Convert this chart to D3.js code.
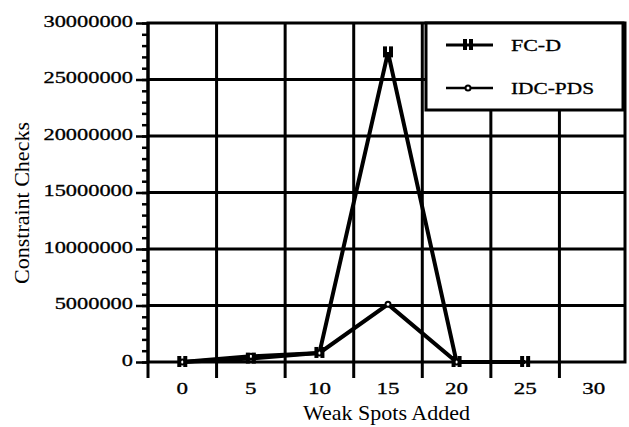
<!DOCTYPE html>
<html>
<head>
<meta charset="utf-8">
<script src="https://cdn.jsdelivr.net/npm/d3@7"></script>
<style>
  body { margin: 0; background: #fff; }
  text { font-family: "Liberation Serif", "Times New Roman", serif; fill: #000; }
</style>
</head>
<body>
<div id="chart"></div>
<script>
// data
var categories = [0, 5, 10, 15, 20, 25, 30];
var fcdX = [0, 5, 10, 15, 20, 25];
var fcdValues = [0, 300000, 800000, 27400000, 0, 0];
var idcX = [0, 5, 10, 15, 20];
var idcValues = [0, 500000, 800000, 5100000, 0];
var yTicks = [0, 5000000, 10000000, 15000000, 20000000, 25000000, 30000000];

// svg size
var svgWidth = 629;
var svgHeight = 427;

var margin = { top: 23, right: 4, bottom: 65, left: 148 };
var chartWidth = svgWidth - margin.left - margin.right;
var chartHeight = svgHeight - margin.top - margin.bottom;

var svg = d3.select("#chart").append("svg")
    .attr("width", svgWidth)
    .attr("height", svgHeight);

svg.append("rect")
    .attr("width", svgWidth)
    .attr("height", svgHeight)
    .attr("fill", "#fff");

var chartGroup = svg.append("g")
    .attr("transform", `translate(${margin.left}, ${margin.top})`);

// x is a band per category, points sit in the middle of each band
var xScale = d3.scaleBand()
    .domain(categories)
    .range([0, chartWidth + 3]);
var half = xScale.bandwidth() / 2;

var yScale = d3.scaleLinear()
    .domain([0, 30000000])
    .range([chartHeight, 0]);

// horizontal grid
chartGroup.append("g")
    .selectAll("line")
    .data(yTicks.slice(1, -1))
    .enter()
    .append("line")
    .attr("x1", 0)
    .attr("x2", chartWidth)
    .attr("y1", d => yScale(d))
    .attr("y2", d => yScale(d))
    .attr("stroke", "#000")
    .attr("stroke-width", 3);

// vertical grid at the band edges, running a little below the axis as ticks
chartGroup.append("g")
    .selectAll("line")
    .data(categories)
    .enter()
    .append("line")
    .attr("x1", d => xScale(d))
    .attr("x2", d => xScale(d))
    .attr("y1", 0)
    .attr("y2", chartHeight + 16)
    .attr("stroke", "#000")
    .attr("stroke-width", 3);

// frame
chartGroup.append("rect")
    .attr("width", chartWidth)
    .attr("height", chartHeight)
    .attr("fill", "none")
    .attr("stroke", "#000")
    .attr("stroke-width", 3);

// y axis: minor ticks every million, major every five
var minorTicks = d3.range(0, 30000001, 1000000);
chartGroup.append("g")
    .call(d3.axisLeft(yScale).tickValues(minorTicks).tickSize(6).tickFormat(""))
    .call(g => g.select(".domain").remove())
    .selectAll("line").attr("stroke-width", 2.5);

var yAxis = chartGroup.append("g")
    .call(d3.axisLeft(yScale).tickValues(yTicks).tickSize(12).tickFormat(d3.format("d")));
yAxis.select(".domain").remove();
yAxis.selectAll("line").attr("stroke-width", 2.5);
yAxis.selectAll("text")
    .attr("font-size", 16)
    .attr("font-family", "Liberation Serif")
    .attr("x", -15 / 1.4)
    .attr("dy", "0.2em")
    .attr("stroke", "#000")
    .attr("stroke-width", 0.3)
    .attr("transform", "scale(1.4,1)");

// x axis labels in the middle of each band
var xAxis = chartGroup.append("g")
    .attr("transform", `translate(0, ${chartHeight})`)
    .call(d3.axisBottom(xScale).tickSize(0));
xAxis.select(".domain").remove();
xAxis.selectAll("text")
    .attr("font-size", 17)
    .attr("font-family", "Liberation Serif")
    .attr("y", 32)
    .attr("dy", "0")
    .attr("x", 0)
    .attr("stroke", "#000")
    .attr("stroke-width", 0.3)
    .attr("textLength", d => String(d).length * 11.5)
    .attr("lengthAdjust", "spacingAndGlyphs");

// lines
var line = d3.line()
    .x(d => xScale(d[0]) + half)
    .y(d => yScale(d[1]));

var fcdData = fcdX.map((d, i) => [d, fcdValues[i]]);
var idcData = idcX.map((d, i) => [d, idcValues[i]]);

chartGroup.append("path")
    .datum(idcData)
    .attr("d", line)
    .attr("fill", "none")
    .attr("stroke", "#000")
    .attr("stroke-width", 4);

chartGroup.append("path")
    .datum(fcdData)
    .attr("d", line)
    .attr("fill", "none")
    .attr("stroke", "#000")
    .attr("stroke-width", 4);

// FC-D marker: two little upright bars
function barMarker(g) {
    g.append("rect").attr("x", -5).attr("y", -6).attr("width", 4).attr("height", 11).attr("fill", "#000");
    g.append("rect").attr("x", 1).attr("y", -6).attr("width", 4).attr("height", 11).attr("fill", "#000");
}
// IDC-PDS marker: small open ring
function ringMarker(g) {
    g.append("circle").attr("r", 2.5).attr("fill", "#fff").attr("stroke", "#000").attr("stroke-width", 2);
}

chartGroup.selectAll(".idc")
    .data(idcData)
    .enter()
    .append("g")
    .attr("class", "idc")
    .attr("transform", d => `translate(${xScale(d[0]) + half}, ${yScale(d[1])})`)
    .each(function() { ringMarker(d3.select(this)); });

chartGroup.selectAll(".fcd")
    .data(fcdData)
    .enter()
    .append("g")
    .attr("class", "fcd")
    .attr("transform", d => `translate(${xScale(d[0]) + half}, ${yScale(d[1])})`)
    .each(function() { barMarker(d3.select(this)); });

// legend box in the top right corner
var legend = chartGroup.append("g")
    .attr("transform", `translate(${chartWidth - 199}, 0)`);
legend.append("rect")
    .attr("width", 197)
    .attr("height", 87)
    .attr("fill", "#fff")
    .attr("stroke", "#000")
    .attr("stroke-width", 3);

var legendItems = [["FC-D", 22, barMarker, 3], ["IDC-PDS", 65, ringMarker, 2.5]];
legendItems.forEach(function(item) {
    var row = legend.append("g").attr("transform", `translate(0, ${item[1]})`);
    row.append("line")
        .attr("x1", 20).attr("x2", 67)
        .attr("stroke", "#000")
        .attr("stroke-width", item[3]);
    item[2](row.append("g").attr("transform", "translate(42, 0)"));
    row.append("text")
        .attr("x", 85)
        .attr("y", 6)
        .attr("font-size", 17)
        .attr("stroke", "#000")
        .attr("stroke-width", 0.3)
        .attr("textLength", item[0] == "FC-D" ? 50 : 83)
        .attr("lengthAdjust", "spacingAndGlyphs")
        .text(item[0]);
});

// axis titles
svg.append("text")
    .attr("x", margin.left + chartWidth / 2)
    .attr("y", 420)
    .attr("text-anchor", "middle")
    .attr("font-size", 22)
    .text("Weak Spots Added");

svg.append("text")
    .attr("transform", "translate(29, 203) rotate(-90)")
    .attr("text-anchor", "middle")
    .attr("font-size", 22)
    .text("Constraint Checks");
</script>
</body>
</html>
